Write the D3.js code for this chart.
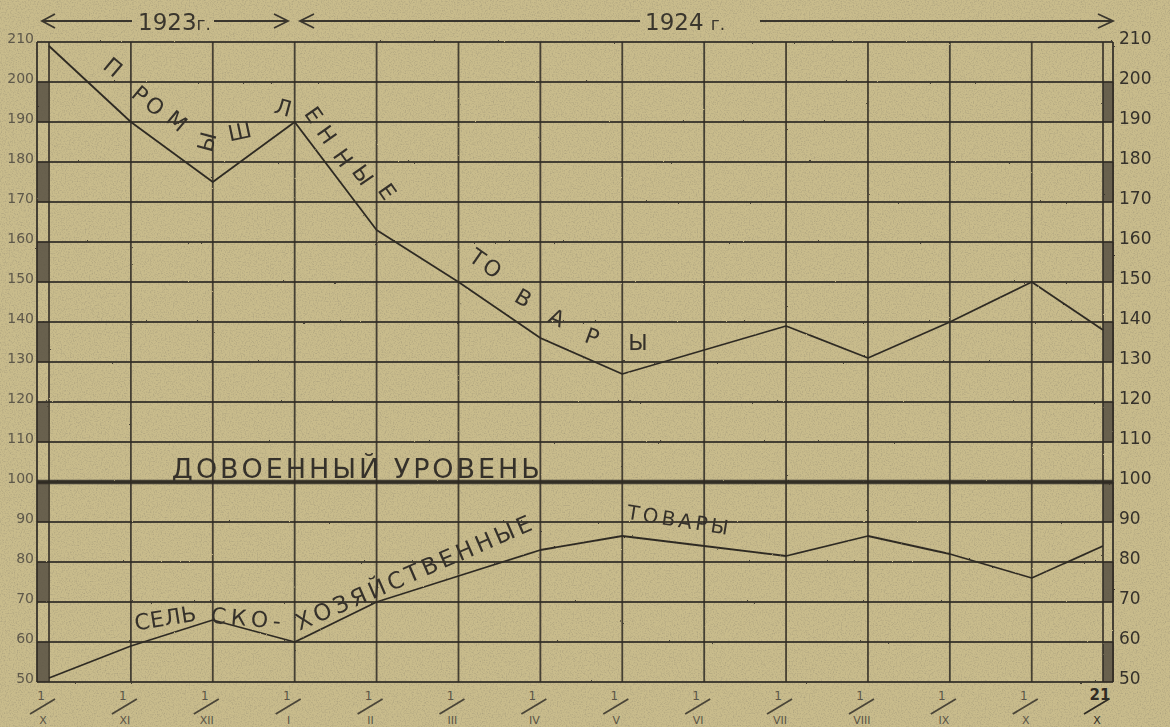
<!DOCTYPE html>
<html>
<head>
<meta charset="utf-8">
<script src="https://cdn.jsdelivr.net/npm/d3@7"></script>
<style>
body { margin: 0; background: #c8bb8c; }
svg { display: block; }
text { font-family: "DejaVu Sans", sans-serif; }
</style>
</head>
<body>
<svg id="chart"></svg>
<script>
var width = 1170, height = 727;

// months counted from 1 Oct 1923, last point is 21 Oct 1924
var monthPos = [0, 1, 2, 3, 4, 5, 6, 7, 8, 9, 10, 11, 12, 12.87];
var dayLabels = ["1", "1", "1", "1", "1", "1", "1", "1", "1", "1", "1", "1", "1", "21"];
var monthLabels = ["X", "XI", "XII", "I", "II", "III", "IV", "V", "VI", "VII", "VIII", "IX", "X", "X"];
var industrial = [209, 190, 175, 190, 163, 150, 136, 127, 133, 139, 131, 140, 150, 138];
var agricultural = [51, 59, 65.5, 60, 70, 76.5, 83, 86.5, 84, 81.5, 86.5, 82, 76, 84];
var prewarLevel = 100;
var yTicks = [210, 200, 190, 180, 170, 160, 150, 140, 130, 120, 110, 100, 90, 80, 70, 60, 50];
var stripBands = [[190, 200], [170, 180], [150, 160], [130, 140], [110, 120], [90, 100], [70, 80], [50, 60]];

var ink = "#2f2b24";

var x = d3.scaleLinear().domain([0, 12.87]).range([49, 1103]);
var y = d3.scaleLinear().domain([50, 210]).range([682, 42]);
var outerLeft = 37, outerRight = 1113;

var svg = d3.select("#chart")
	.attr("width", width)
	.attr("height", height);

var defs = svg.append("defs");

// paper grain
var grain = defs.append("filter").attr("id", "grain")
	.attr("x", 0).attr("y", 0).attr("width", "100%").attr("height", "100%");
grain.append("feTurbulence")
	.attr("type", "fractalNoise")
	.attr("baseFrequency", 0.75)
	.attr("numOctaves", 2)
	.attr("seed", 3);
grain.append("feColorMatrix")
	.attr("type", "matrix")
	.attr("values", "0 0 0 0 0.25  0 0 0 0 0.22  0 0 0 0 0.15  0.9 0 0 0 -0.4");

// rough hand drawn strokes
var rough = defs.append("filter").attr("id", "rough")
	.attr("x", "-2%").attr("y", "-2%").attr("width", "104%").attr("height", "104%");
rough.append("feTurbulence")
	.attr("type", "fractalNoise")
	.attr("baseFrequency", 0.35)
	.attr("numOctaves", 2)
	.attr("seed", 7)
	.attr("result", "n");
rough.append("feDisplacementMap")
	.attr("in", "SourceGraphic")
	.attr("in2", "n")
	.attr("scale", 1.6)
	.attr("xChannelSelector", "R")
	.attr("yChannelSelector", "G");

svg.append("rect")
	.attr("width", width)
	.attr("height", height)
	.attr("fill", "#c9bc8c");
svg.append("rect")
	.attr("width", width)
	.attr("height", height)
	.attr("filter", "url(#grain)");

var grid = svg.append("g").attr("filter", "url(#rough)");

// shaded ruler strips on both sides
[outerLeft, x(12.87)].forEach(function(sx) {
	grid.selectAll(null)
		.data(stripBands)
		.enter()
		.append("rect")
		.attr("x", sx)
		.attr("y", function(d) { return y(d[1]); })
		.attr("width", 11)
		.attr("height", function(d) { return y(d[0]) - y(d[1]); })
		.attr("fill", "#575142")
		.attr("opacity", 0.85);
});

grid.selectAll(".hgrid")
	.data(yTicks)
	.enter()
	.append("line")
	.attr("class", "hgrid")
	.attr("x1", outerLeft)
	.attr("x2", outerRight)
	.attr("y1", function(d) { return y(d); })
	.attr("y2", function(d) { return y(d); })
	.attr("stroke", ink)
	.attr("stroke-width", 1.8)
	.attr("opacity", 0.85);

grid.selectAll(".vgrid")
	.data(monthPos)
	.enter()
	.append("line")
	.attr("class", "vgrid")
	.attr("x1", function(d) { return x(d); })
	.attr("x2", function(d) { return x(d); })
	.attr("y1", y(210))
	.attr("y2", y(50))
	.attr("stroke", ink)
	.attr("stroke-width", 1.8)
	.attr("opacity", 0.85);

grid.selectAll(".frame")
	.data([outerLeft, outerRight])
	.enter()
	.append("line")
	.attr("class", "frame")
	.attr("x1", function(d) { return d; })
	.attr("x2", function(d) { return d; })
	.attr("y1", y(210))
	.attr("y2", y(50))
	.attr("stroke", ink)
	.attr("stroke-width", 2)
	.attr("opacity", 0.85);

// prewar level
grid.append("line")
	.attr("x1", outerLeft)
	.attr("x2", outerRight)
	.attr("y1", y(prewarLevel))
	.attr("y2", y(prewarLevel))
	.attr("stroke", ink)
	.attr("stroke-width", 4.5)
	.attr("opacity", 0.85);

var line = d3.line()
	.x(function(d, i) { return x(monthPos[i]); })
	.y(function(d) { return y(d); });

var lines = svg.append("g").attr("filter", "url(#rough)");
[industrial, agricultural].forEach(function(series) {
	lines.append("path")
		.attr("d", line(series))
		.attr("fill", "none")
		.attr("stroke", ink)
		.attr("stroke-width", 1.8)
		.attr("stroke-linejoin", "round");
});

// axes
var yLeft = svg.append("g")
	.attr("transform", "translate(" + (outerLeft + 1) + ",0)")
	.call(d3.axisLeft(y).tickValues(yTicks).tickSize(0).tickPadding(4));
yLeft.select(".domain").remove();
yLeft.selectAll("text")
	.attr("dy", "0.05em")
	.attr("font-size", 14)
	.attr("font-family", "DejaVu Sans")
	.attr("fill", "#5e584a");

var yRight = svg.append("g")
	.attr("transform", "translate(" + outerRight + ",0)")
	.call(d3.axisRight(y).tickValues(yTicks).tickSize(0).tickPadding(6));
yRight.select(".domain").remove();
yRight.selectAll("text")
	.attr("dy", "0.1em")
	.attr("font-size", 17)
	.attr("font-family", "DejaVu Sans")
	.attr("fill", "#35312a");

// date ticks written as day / month
var last = monthPos.length - 1;
var dates = svg.append("g")
	.selectAll("g")
	.data(monthPos)
	.enter()
	.append("g")
	.attr("transform", function(d) { return "translate(" + (x(d) - 5) + ",0)"; })
	.attr("fill", function(d, i) { return i === last ? "#2f2b24" : "#5a5446"; });
dates.append("text")
	.attr("x", function(d, i) { return i === last ? 2 : -3; })
	.attr("y", 700)
	.attr("text-anchor", "middle")
	.attr("font-size", function(d, i) { return i === last ? 15 : 12; })
	.attr("font-weight", function(d, i) { return i === last ? "bold" : "normal"; })
	.text(function(d, i) { return dayLabels[i]; });
dates.append("line")
	.attr("x1", -14)
	.attr("y1", 714)
	.attr("x2", 11)
	.attr("y2", 699)
	.attr("stroke", function(d, i) { return i === last ? "#2f2b24" : "#4a4538"; })
	.attr("stroke-width", 1.8);
dates.append("text")
	.attr("x", -1)
	.attr("y", 724)
	.attr("text-anchor", "middle")
	.attr("font-size", 11)
	.text(function(d, i) { return monthLabels[i]; });

// year header
var header = svg.append("g")
	.attr("stroke", "#3a362d")
	.attr("stroke-width", 1.8)
	.attr("fill", "none");
var hy = 21;
[[42, 132], [214, 288], [300, 640], [760, 1113]].forEach(function(seg) {
	header.append("line")
		.attr("x1", seg[0]).attr("x2", seg[1])
		.attr("y1", hy).attr("y2", hy);
});
header.append("path").attr("d", "M55,14L42,21L55,28");
header.append("path").attr("d", "M274,14L288,21L274,28");
header.append("path").attr("d", "M314,14L300,21L314,28");
header.append("path").attr("d", "M1098,14L1113,21L1098,28");

svg.append("text")
	.attr("x", 138).attr("y", 30)
	.attr("font-size", 23)
	.attr("fill", "#3a362d")
	.text("1923")
	.append("tspan").attr("font-size", 17).text("г.");
svg.append("text")
	.attr("x", 645).attr("y", 30)
	.attr("font-size", 23)
	.attr("fill", "#3a362d")
	.text("1924 ")
	.append("tspan").attr("font-size", 17).text("г.");

// lettering along the curves: [letter, month, value, rotation]
var industrialLetters = [
	["П", 0.78, 203.7, 40], ["Р", 1.11, 196.9, 40], ["О", 1.29, 194, 40], ["М", 1.56, 190.2, 40],
	["Ы", 1.93, 185, -75], ["Ш", 2.33, 187.6, -12], ["Л", 2.86, 193.6, 15],
	["Е", 3.23, 191.8, 55], ["Н", 3.39, 186.8, 55], ["Н", 3.59, 181, 55], ["Ы", 3.83, 176.7, 55], ["Е", 4.13, 172.6, 55],
	["Т", 5.23, 156.1, 35], ["О", 5.41, 153.4, 35], ["В", 5.79, 146, 30], ["А", 6.2, 141, 25],
	["Р", 6.63, 136.3, 20], ["Ы", 7.19, 134.8, 0]
];

svg.append("g")
	.selectAll("text")
	.data(industrialLetters)
	.enter()
	.append("text")
	.attr("text-anchor", "middle")
	.attr("dominant-baseline", "central")
	.attr("font-size", 22)
	.attr("fill", "#35312a")
	.attr("transform", function(d) {
		return "translate(" + x(d[1]) + "," + y(d[2]) + ") rotate(" + d[3] + ")";
	})
	.text(function(d) { return d[0]; });

// runs of text: [text, month, value, rotation, length, size]
var textRuns = [
	["ДОВОЕННЫЙ УРОВЕНЬ", 1.5, 101.1, 0, 368, 27],
	["СЕЛЬ", 1.06, 62.9, -9, 62, 22],
	["СКО-", 1.97, 64.8, 5, 70, 22],
	["ХОЗЯЙСТВЕННЫЕ", 3.06, 62.8, -23.4, 255, 23],
	["ТОВАРЫ", 7.05, 90.8, 9, 102, 20]
];

svg.append("g")
	.selectAll("text")
	.data(textRuns)
	.enter()
	.append("text")
	.attr("font-size", function(d) { return d[5]; })
	.attr("fill", "#35312a")
	.attr("textLength", function(d) { return d[4]; })
	.attr("lengthAdjust", "spacing")
	.attr("transform", function(d) {
		return "translate(" + x(d[1]) + "," + y(d[2]) + ") rotate(" + d[3] + ")";
	})
	.text(function(d) { return d[0]; });
</script>
</body>
</html>
